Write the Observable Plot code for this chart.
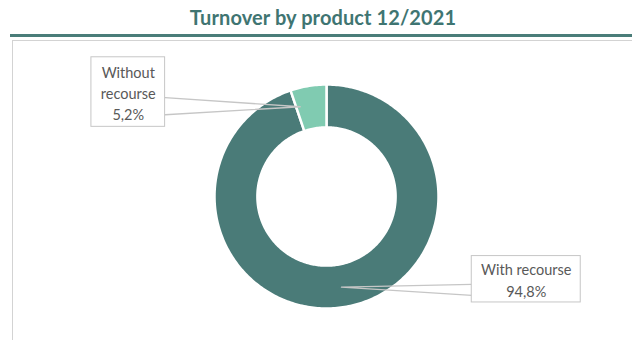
<!DOCTYPE html>
<html>
<head>
<meta charset="utf-8">
<script src="https://cdn.jsdelivr.net/npm/d3@7"></script>
<script src="https://cdn.jsdelivr.net/npm/@observablehq/plot@0.6"></script>
<style>
  html, body { margin: 0; padding: 0; background: #fff; }
  body { width: 632px; height: 340px; overflow: hidden; position: relative; font-family: Lato, "Open Sans", sans-serif; }
  #title { position: absolute; left: 0; top: 5px; width: 646px; text-align: center; font-weight: bold; font-size: 20px; color: #3f7572; letter-spacing: 0.1px; }
  #rule { position: absolute; left: 10px; top: 34px; width: 622px; height: 3px; background: #4a7d79; }
  #frame { position: absolute; left: 12px; top: 40px; width: 660px; height: 340px; border: 1px solid #d3d3d3; }
  #chart { position: absolute; left: 13px; top: 41px; }
</style>
</head>
<body>
<div id="title"></div>
<div id="rule"></div>
<div id="frame"></div>
<div id="chart"></div>
<script>
// ---- data ----
const title = "Turnover by product 12/2021";
const products = ["With recourse", "Without recourse"];
const boxText = ["With recourse", "Without\nrecourse"];
const shares = [94.8, 5.2];
const shareLabels = ["94,8%", "5,2%"];
const colors = ["#4a7b78", "#80cbb1"];

// ---- layout (in units of the outer radius) ----
const innerRatio = 0.617;
const layout = [
  { x1: 1.297, x2: 2.27, y1: -0.532, y2: -0.946, attachX: 1.297, attachY: [-0.784, -0.883], anchorFrac: 0.5, anchorR: 0.82 },
  { x1: -2.099, x2: -1.441, y1: 1.243, y2: 0.622, attachX: -1.441, attachY: [0.883, 0.73], anchorFrac: 0.13, anchorR: 0.835 }
];

document.getElementById("title").textContent = title;

const total = d3.sum(shares);
let acc = 0;
const slices = products.map((p, i) => {
  const a0 = acc / total * 2 * Math.PI;
  acc += shares[i];
  const a1 = acc / total * 2 * Math.PI;
  return { p, a0, a1 };
});

const ring = [];
for (const s of slices) {
  const n = Math.max(4, Math.ceil((s.a1 - s.a0) / (2 * Math.PI) * 360));
  for (let k = 0; k <= n; k++) {
    const a = s.a0 + (s.a1 - s.a0) * k / n;
    ring.push({ p: s.p, x: Math.sin(a), y: Math.cos(a) });
  }
  for (let k = n; k >= 0; k--) {
    const a = s.a0 + (s.a1 - s.a0) * k / n;
    ring.push({ p: s.p, x: innerRatio * Math.sin(a), y: innerRatio * Math.cos(a) });
  }
}

const boxes = products.map((p, i) => ({ ...layout[i], p, text: boxText[i] + "\n" + shareLabels[i] }));
const leaders = [];
slices.forEach((s, i) => {
  const L = layout[i];
  const a = s.a0 + (s.a1 - s.a0) * L.anchorFrac;
  leaders.push({ p: s.p, x: L.attachX, y: L.attachY[0] });
  leaders.push({ p: s.p, x: L.anchorR * Math.sin(a), y: L.anchorR * Math.cos(a) });
  leaders.push({ p: s.p, x: L.attachX, y: L.attachY[1] });
});

const cx = 313, cy = 155, R = 112;
const chart = Plot.plot({
  width: 619,
  height: 299,
  margin: 0,
  style: { background: "transparent", fontFamily: "Lato, 'Open Sans', sans-serif" },
  x: { domain: [-1, 1], range: [cx - R, cx + R], axis: null },
  y: { domain: [-1, 1], range: [cy + R, cy - R], axis: null },
  color: { domain: products, range: colors },
  marks: [
    Plot.line(ring, { x: "x", y: "y", z: "p", fill: "p", stroke: "white", strokeWidth: 2.5, curve: "linear-closed" }),
    Plot.line(leaders, { x: "x", y: "y", z: "p", stroke: "#c6c6c6", strokeWidth: 1.3, curve: "linear" }),
    Plot.rect(boxes, { x1: "x1", x2: "x2", y1: "y1", y2: "y2", fill: "white", stroke: "#c6c6c6", strokeWidth: 1 }),
    Plot.text(boxes, { x: d => (d.x1 + d.x2) / 2, y: d => (d.y1 + d.y2) / 2, text: "text", fill: "#595959", fontSize: 14.5, lineHeight: 1.45 })
  ]
});
document.getElementById("chart").appendChild(chart);
</script>
</body>
</html>
